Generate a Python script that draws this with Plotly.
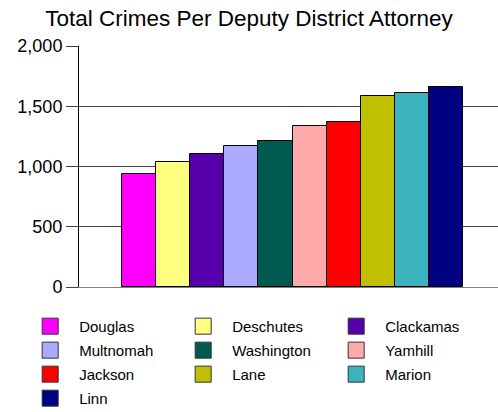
import plotly.graph_objects as go

counties = ["Douglas", "Deschutes", "Clackamas", "Multnomah", "Washington",
            "Yamhill", "Jackson", "Lane", "Marion", "Linn"]
crimes = [935, 1040, 1104, 1168, 1209, 1334, 1367, 1588, 1613, 1660]
colors = ["#FF00FF", "#FFFF80", "#5500AA", "#AAAAFF", "#005A50",
          "#FFAAAA", "#FF0000", "#C0C000", "#3CB4C0", "#000080"]
y_ticks = [0, 500, 1000, 1500, 2000]

FONT = "Liberation Sans, Arial, sans-serif"
legend_ids = ["legend", "legend2", "legend3"]

fig = go.Figure()
for i, (name, val, col) in enumerate(zip(counties, crimes, colors)):
    fig.add_trace(go.Bar(
        x=[i], y=[val], name=name, width=1, showlegend=False,
        marker=dict(color=col, line=dict(color="black", width=1)),
    ))
for i, (name, col) in enumerate(zip(counties, colors)):
    fig.add_trace(go.Scatter(
        x=[None], y=[None], name=name, mode="markers",
        legend=legend_ids[i % 3], legendgroup=name,
        marker=dict(symbol="square", size=20, color=col,
                    line=dict(color="#333333", width=1)),
    ))

leg_common = dict(orientation="v", yanchor="top", y=-0.095, xanchor="left",
                  font=dict(family=FONT, size=15, color="black"),
                  traceorder="grouped", itemclick=False, tracegroupgap=1.5,
                  itemwidth=48, bgcolor="rgba(0,0,0,0)")
x0 = -0.138
fig.update_layout(
    width=498, height=412,
    margin=dict(l=79, r=0, t=46, b=125, autoexpand=False),
    paper_bgcolor="white", plot_bgcolor="white",
    title=dict(text="Total Crimes Per Deputy District Attorney",
               x=0.5, xanchor="center", y=1 - 18 / 412, yanchor="middle",
               font=dict(family=FONT, size=22.5, color="black")),
    font=dict(family=FONT, color="black"),
    showlegend=True,
    legend=dict(leg_common, x=x0),
    legend2=dict(leg_common, x=x0 + 153 / 419),
    legend3=dict(leg_common, x=x0 + 306 / 419),
    bargap=0,
)
fig.update_xaxes(range=[-1.76, 10.52], showticklabels=False, showgrid=False,
                 zeroline=False, showline=True, linecolor="#808080", linewidth=1,
                 ticks="")
fig.update_yaxes(range=[0, 2000], tickvals=y_ticks, tickformat=",d",
                 showgrid=True, gridcolor="#404040", gridwidth=1,
                 zeroline=False, showline=True, linecolor="black", linewidth=1,
                 ticks="outside", ticklen=12, tickcolor="#404040",
                 tickfont=dict(family=FONT, size=18, color="black"))

fig.write_html("out.html")
